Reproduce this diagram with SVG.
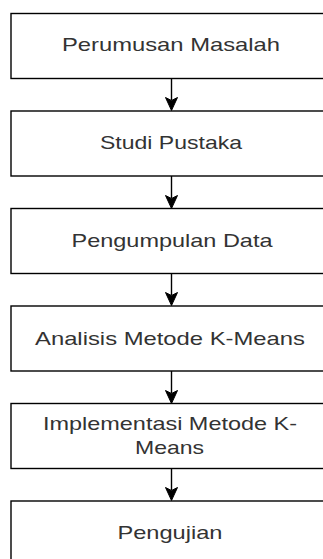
<svg xmlns="http://www.w3.org/2000/svg" width="323" height="559" viewBox="0 0 323 559">
<style>
.box{fill:#fff;stroke:#000;stroke-width:1.4}
.t{font-family:"Liberation Sans",Arial,sans-serif;font-size:18.6px;fill:#333;text-anchor:middle}
.c{stroke:#000;stroke-width:1.4;fill:none}
.ah{fill:#000;stroke:#000;stroke-width:1}
</style>
<rect width="323" height="559" fill="#fff"/>
<g id="connectors">
<line class="c" x1="171.5" y1="78.5" x2="171.5" y2="100"/>
<path class="ah" d="M171.5,110.5 L165.5,97.5 L171.5,100.5 L177.5,97.5 Z"/>
<line class="c" x1="171.5" y1="176" x2="171.5" y2="198"/>
<path class="ah" d="M171.5,208.5 L165.5,195.5 L171.5,198.5 L177.5,195.5 Z"/>
<line class="c" x1="171.5" y1="273.5" x2="171.5" y2="295"/>
<path class="ah" d="M171.5,305.5 L165.5,292.5 L171.5,295.5 L177.5,292.5 Z"/>
<line class="c" x1="171.5" y1="371" x2="171.5" y2="393"/>
<path class="ah" d="M171.5,403.5 L165.5,390.5 L171.5,393.5 L177.5,390.5 Z"/>
<line class="c" x1="171.5" y1="468.5" x2="171.5" y2="490"/>
<path class="ah" d="M171.5,500.5 L165.5,487.5 L171.5,490.5 L177.5,487.5 Z"/>
</g>
<g id="n1"><rect class="box" x="11" y="13.5" width="320" height="65"/><text class="t" x="171" y="51" textLength="218" lengthAdjust="spacingAndGlyphs">Perumusan Masalah</text></g>
<g id="n2"><rect class="box" x="11" y="111" width="320" height="65"/><text class="t" x="171" y="149" textLength="142" lengthAdjust="spacingAndGlyphs">Studi Pustaka</text></g>
<g id="n3"><rect class="box" x="11" y="208.5" width="320" height="65"/><text class="t" x="172" y="246.5" textLength="201" lengthAdjust="spacingAndGlyphs">Pengumpulan Data</text></g>
<g id="n4"><rect class="box" x="11" y="306" width="320" height="65"/><text class="t" x="170" y="344.5" textLength="270" lengthAdjust="spacingAndGlyphs">Analisis Metode K-Means</text></g>
<g id="n5"><rect class="box" x="11" y="403.5" width="320" height="65"/><text class="t" x="170" y="429.5" textLength="254" lengthAdjust="spacingAndGlyphs">Implementasi Metode K-</text><text class="t" x="169.5" y="453.5" textLength="69" lengthAdjust="spacingAndGlyphs">Means</text></g>
<g id="n6"><rect class="box" x="11" y="501" width="320" height="65"/><text class="t" x="170" y="538.5" textLength="105" lengthAdjust="spacingAndGlyphs">Pengujian</text></g>
</svg>
